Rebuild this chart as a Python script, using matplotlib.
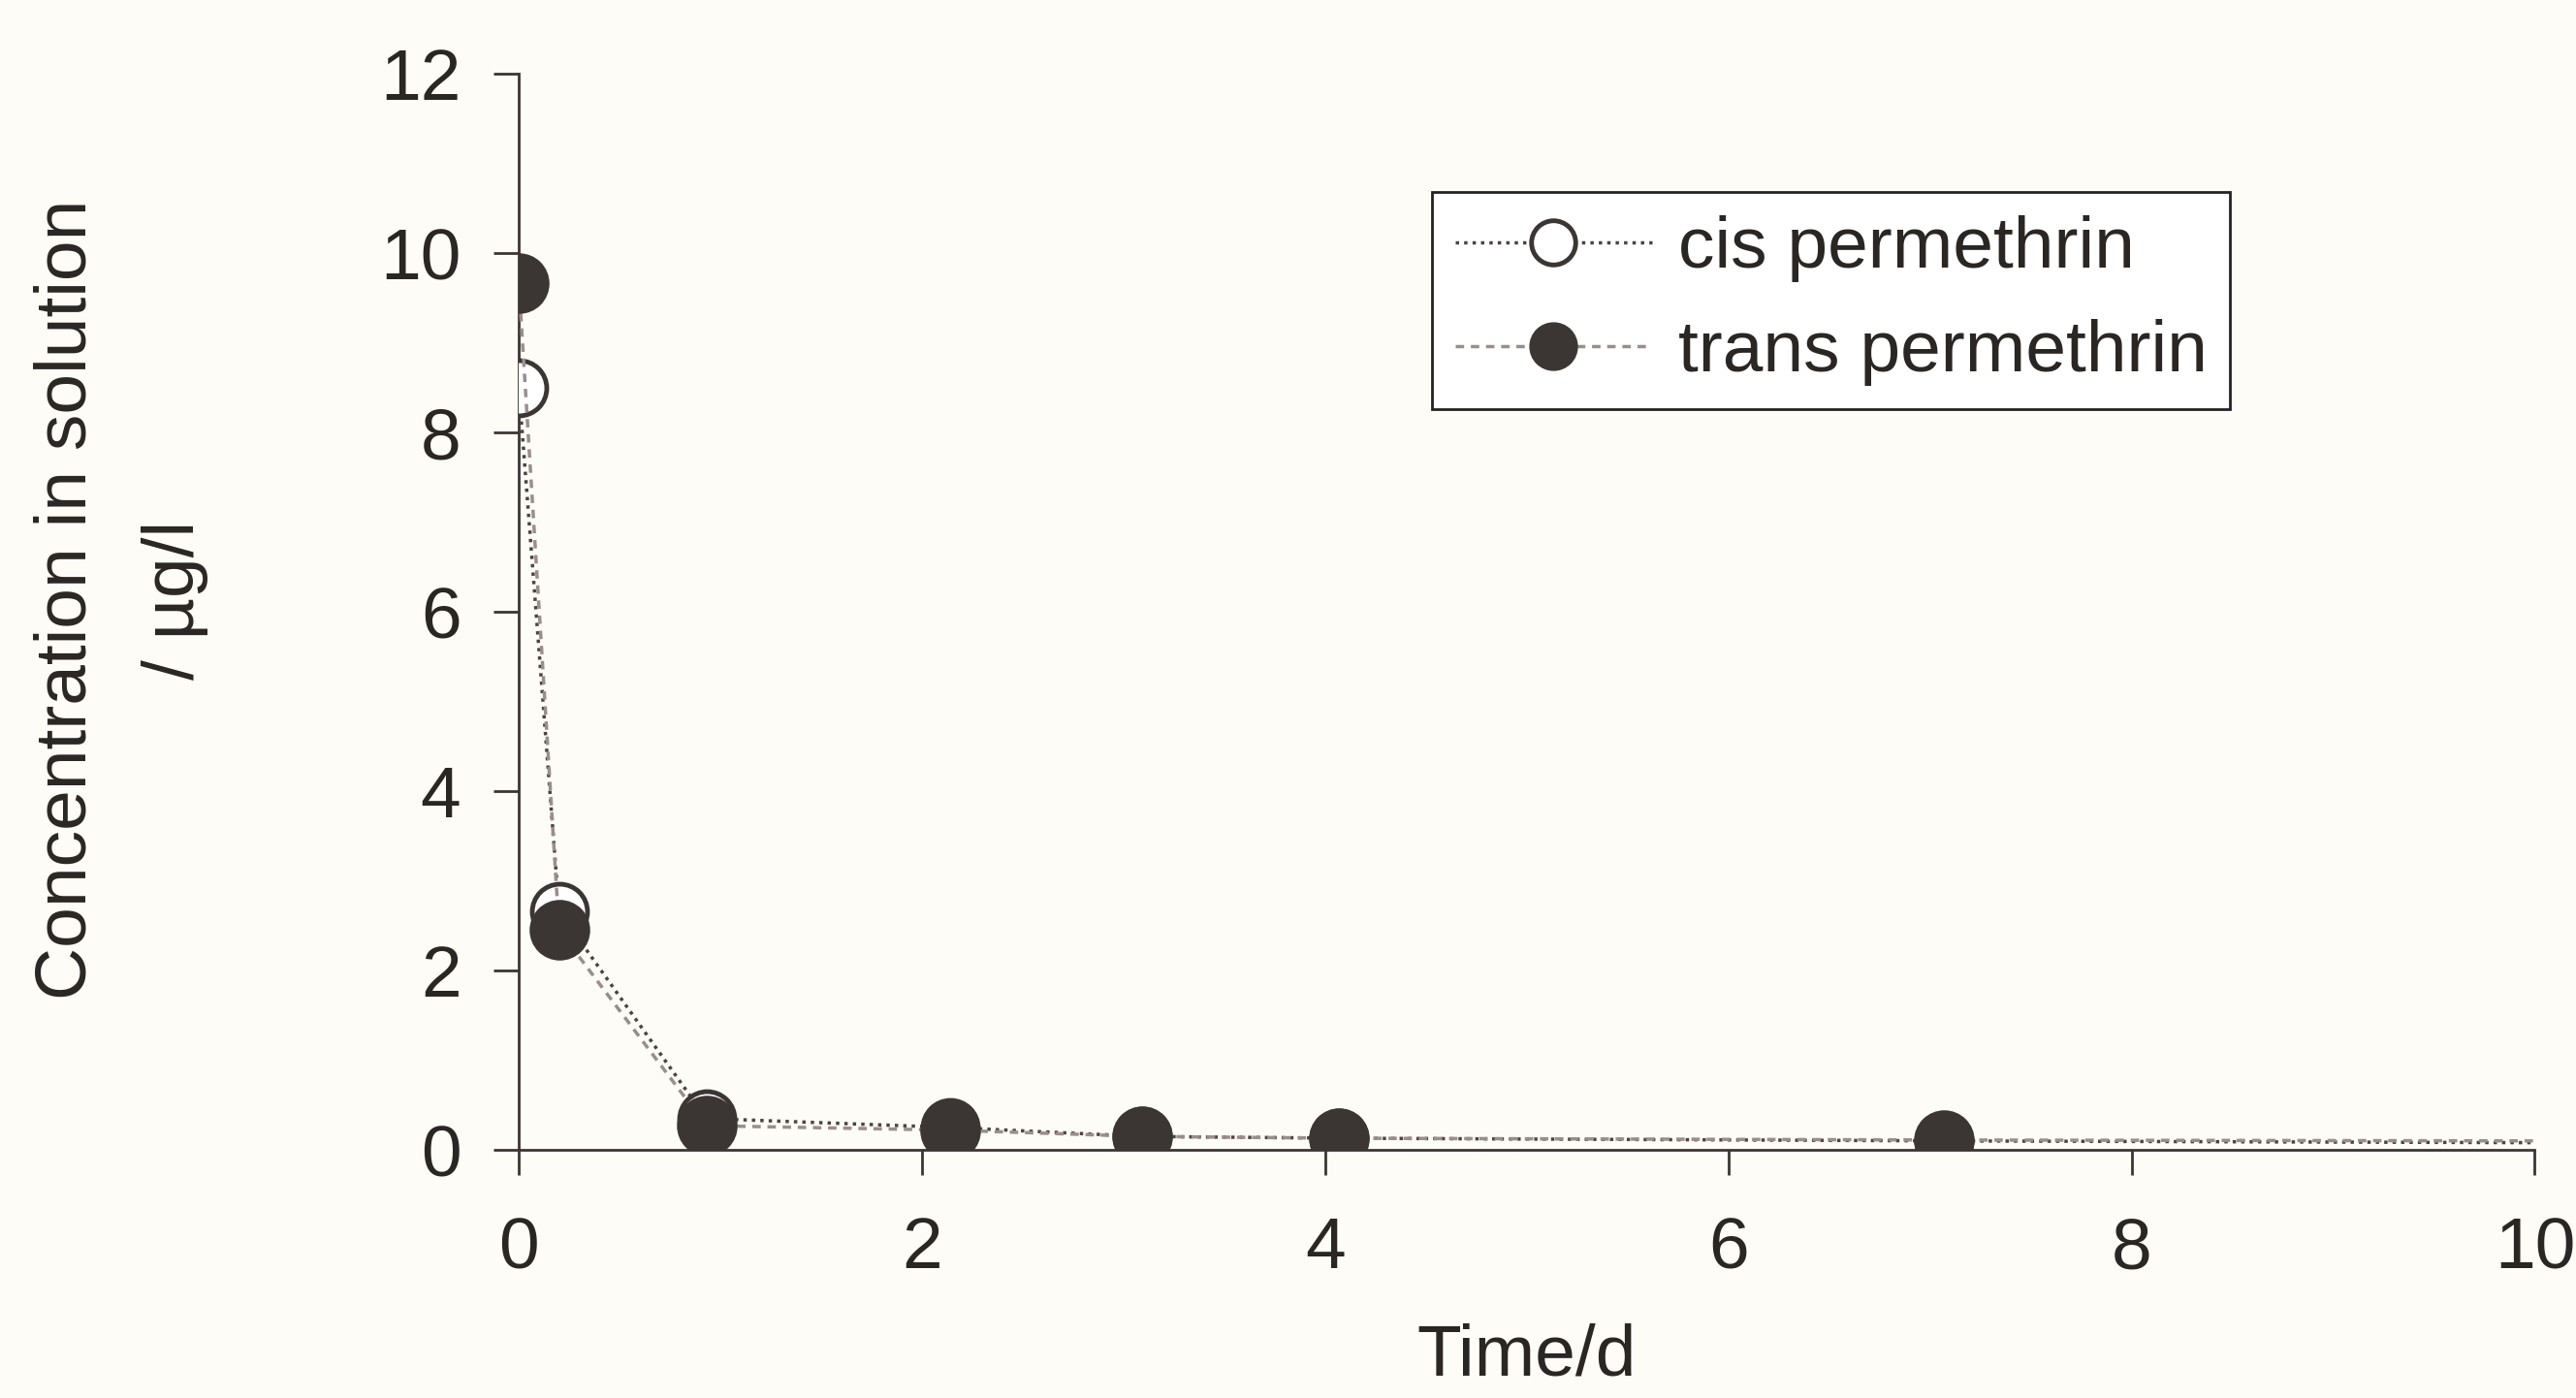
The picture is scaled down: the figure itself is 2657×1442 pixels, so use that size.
import matplotlib
matplotlib.use("Agg")
import matplotlib.pyplot as plt

# values (Time in days, concentration in ug/l)
times = [0, 0.2, 0.93, 2.14, 3.09, 4.07, 7.07, 10]
cis = [8.50, 2.66, 0.35, 0.25, 0.15, 0.13, 0.10, 0.08]
trans = [9.67, 2.45, 0.27, 0.22, 0.15, 0.13, 0.11, 0.10]
series_names = ["cis permethrin", "trans permethrin"]
x_ticks = [0, 2, 4, 6, 8, 10]
y_ticks = [0, 2, 4, 6, 8, 10, 12]

bg = "#fefcf7"
ink = "#3b3634"
txt = "#2a2624"
fsize = 54

plt.rcParams["font.family"] = ["Liberation Sans", "DejaVu Sans"]

fig = plt.figure(figsize=(26.57, 14.42), dpi=100, facecolor=bg)
ax = fig.add_axes([0.2014, 0.1775, 0.7826, 0.7695], facecolor=bg)

marks = list(range(len(times) - 1))
ax.plot(times, cis, linestyle=(0, (1, 1.5)), color="#4a4442", linewidth=2.5,
        marker="o", markersize=41, markerfacecolor="white",
        markeredgecolor=ink, markeredgewidth=3.5, markevery=marks,
        label=series_names[0], zorder=3)
ax.plot(times, trans, linestyle=(0, (2.5, 2)), color="#9a8e8c", linewidth=2.5,
        marker="o", markersize=44, markerfacecolor=ink,
        markeredgecolor=ink, markevery=marks,
        label=series_names[1], zorder=4)

ax.set_xlim(0, 10)
ax.set_ylim(0, 12)
ax.set_xticks(x_ticks)
ax.set_yticks(y_ticks)

for s in ["top", "right"]:
    ax.spines[s].set_visible(False)
for s in ["left", "bottom"]:
    ax.spines[s].set_color(ink)
    ax.spines[s].set_linewidth(2)

ax.tick_params(axis="both", direction="out", colors=ink, labelcolor=txt,
               labelsize=fsize, width=2, length=19)
ax.tick_params(axis="x", pad=30)
ax.tick_params(axis="y", pad=24)

fig.text(0.5927, 0.016, "Time/d", ha="center", va="baseline",
         fontsize=fsize, color=txt)
fig.text(0.047, 0.571, "Concentration in solution\n/ \u00b5g/l", rotation=90,
         ha="center", va="center", fontsize=fsize, color=txt,
         linespacing=1.8)

leg = ax.legend(loc="upper left", bbox_to_anchor=(0.453, 0.890),
                borderaxespad=0, fontsize=fsize, fancybox=False,
                framealpha=1, edgecolor="#222222", handlelength=2.7,
                handletextpad=0.36, labelspacing=0.5, borderpad=0.32,
                markerscale=0.8)
leg.get_frame().set_linewidth(2)
leg.get_frame().set_facecolor("white")
for t in leg.get_texts():
    t.set_color(txt)

fig.savefig("out.png", dpi=100, facecolor=bg)
